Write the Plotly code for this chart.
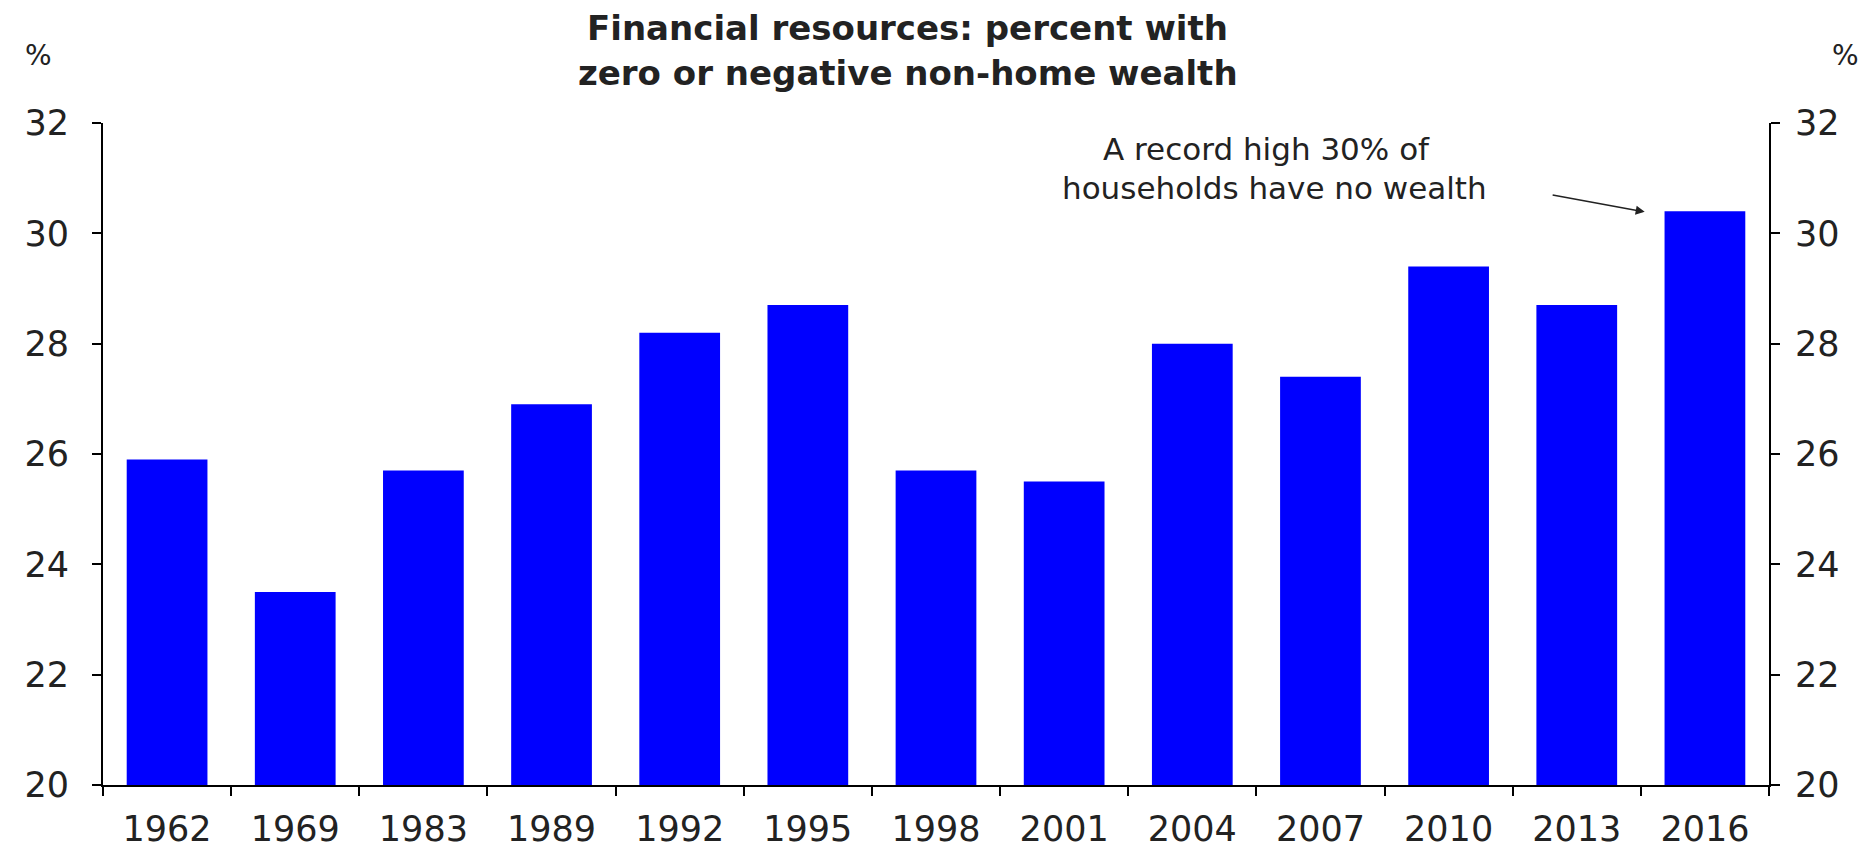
import plotly.graph_objects as go

# Jahre und Anteil der Haushalte mit null/negativem Nicht-Wohnvermögen (%)
years = ["1962", "1969", "1983", "1989", "1992", "1995", "1998",
         "2001", "2004", "2007", "2010", "2013", "2016"]
pct = [25.9, 23.5, 25.7, 26.9, 28.2, 28.7, 25.7,
       25.5, 28.0, 27.4, 29.4, 28.7, 30.4]
y_ticks = [20, 22, 24, 26, 28, 30, 32]

FONT = "DejaVu Sans, Liberation Sans, Arial, sans-serif"
TXT = "#222"

fig = go.Figure()
fig.add_trace(go.Bar(x=years, y=pct, marker_color="#0000FF",
                     marker_line_width=0, showlegend=False))
# unsichtbare Spur fuer die rechte Achse
fig.add_trace(go.Scatter(x=years, y=pct, yaxis="y2", mode="markers",
                         marker_opacity=0, showlegend=False, hoverinfo="skip"))

axis_common = dict(range=[20, 32], tickvals=y_ticks, ticks="outside",
                   ticklen=9, tickwidth=2, tickcolor="black",
                   showline=True, linecolor="black", linewidth=2,
                   showgrid=False, zeroline=False,
                   tickfont=dict(family=FONT, size=35, color=TXT))


def txt(text, x, y, size, xref="paper", yref="paper"):
    return dict(text=text, xref=xref, yref=yref, x=x, y=y,
                xanchor="center", yanchor="middle", showarrow=False,
                font=dict(family=FONT, size=size, color=TXT))


fig.update_layout(
    width=1867, height=853,
    paper_bgcolor="white", plot_bgcolor="white",
    margin=dict(l=95, r=106, t=115, b=71),
    bargap=0.37,
    xaxis=dict(range=[-0.5, 12.5], ticks="outside", tickson="boundaries",
               ticklen=9, tickwidth=2, tickcolor="black", showline=True,
               linecolor="black", linewidth=2, showgrid=False,
               ticklabelstandoff=12,
               tickfont=dict(family=FONT, size=35, color=TXT)),
    yaxis=dict(**axis_common, side="left", ticklabelstandoff=16),
    yaxis2=dict(**axis_common, side="right", overlaying="y", ticklabelstandoff=8),
    annotations=[
        txt("<b>Financial resources: percent with</b>", 0.483, 1.143, 34),
        txt("<b>zero or negative non-home wealth</b>", 0.483, 1.076, 34),
        txt("%", -0.039, 1.102, 28),
        txt("%", 1.046, 1.102, 28),
        txt("A record high 30% of", 8.58, 31.52, 31, "x", "y"),
        txt("households have no wealth", 8.64, 30.83, 31, "x", "y"),
        dict(text="", xref="x", yref="y", x=11.53, y=30.39,
             axref="x", ayref="y", ax=10.8, ay=30.7,
             showarrow=True, arrowhead=2, arrowsize=1.2, arrowwidth=1.5,
             arrowcolor=TXT),
    ],
)

fig.write_html("out.html")
